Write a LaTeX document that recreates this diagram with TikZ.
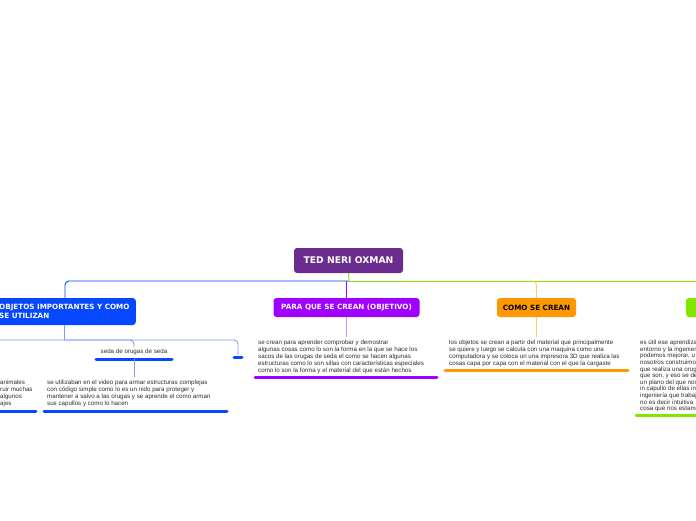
\documentclass[tikz,border=0pt]{standalone}
\usepackage{fontspec}
\setmainfont{Liberation Sans}
\newfontfamily\headfont{DejaVu Sans}

\definecolor{rootpurple}{RGB}{106,44,142}
\definecolor{topicblue}{RGB}{5,72,255}
\definecolor{lineblue}{RGB}{125,155,255}
\definecolor{topicpurple}{RGB}{160,0,255}
\definecolor{linepurple}{RGB}{215,140,255}
\definecolor{topicorange}{RGB}{255,152,0}
\definecolor{lineorange}{RGB}{255,200,120}
\definecolor{topicgreen}{RGB}{128,232,0}
\definecolor{stemgreen}{RGB}{140,205,40}
\definecolor{notegray}{RGB}{45,45,45}

\begin{document}
\begin{tikzpicture}[x=1pt, y=-1pt,
  topic/.style={rounded corners=3pt, inner sep=0pt, minimum height=19pt,
    text=white, font=\headfont\bfseries\fontsize{7.2}{8.6}\selectfont},
  note/.style={anchor=north west, inner sep=0pt, align=left, text=notegray,
    font=\fontsize{6.2}{6.9}\selectfont},
  bar/.style={line width=3pt, line cap=round},
  link/.style={line width=0.9pt, rounded corners=4pt}]
  \clip (0,0) rectangle (696,520);
  \fill[white] (0,0) rectangle (696,520);

  % Main topics
  \node[topic, fill=rootpurple, minimum width=109pt, minimum height=25pt,
    font=\headfont\bfseries\fontsize{9.2}{11}\selectfont] (root) at (348.5,260.5) {TED NERI OXMAN};
  \node[topic, fill=topicblue, minimum height=27pt, minimum width=200pt, anchor=east] (objetos) at (136,311.5) {};
  \node[topic, align=left, anchor=west] (objlabel) at (-1,311.5) {OBJETOS IMPORTANTES Y COMO\\SE UTILIZAN};
  \node[topic, fill=topicpurple, minimum width=146pt] (objetivo) at (346.5,307.5) {PARA QUE SE CREAN (OBJETIVO)};
  \node[topic, fill=topicorange, minimum width=79pt, text=black] (crean) at (536.5,307.5) {COMO SE CREAN};
  \node[topic, fill=topicgreen, minimum width=80pt] (util) at (726,307.5) {};

  % Hub lines
  \coordinate (hub) at (349,281);
  \draw[link, stemgreen] (root.south) -- (hub);
  \draw[link, topicgreen] (hub) -- (700,281);
  \draw[link, topicblue] (hub) -| (objetos.north -| 65,0);
  \draw[link, topicpurple] (hub -| objetivo.north) -- (objetivo.north);
  \draw[link, lineorange] (529,281) -| (crean.north);

  % Objetos branch
  \coordinate (objfork) at (64,340);
  \draw[link, lineblue] (objetos.south -| objfork) -- (objfork);
  \draw[link, lineblue] (-20,352) |- (objfork) -| (134,347);
  \draw[link, lineblue] (objfork) -| (238,355);
  \node[note, anchor=center] (seda) at (134,352) {seda de orugas de seda};
  \draw[bar, topicblue] (96,359) -- (172,359);
  \draw[bar, topicblue] (234,357) -- (242,357);
  \draw[link, lineblue] (134,359) -- (134,377);
  \node[note] (usotxt) at (47,380) {se utilizaban en el video para armar estructuras complejas\\
    con código simple como lo es un nido para proteger y\\
    mantener a salvo a las orugas y se aprende el como arman\\
    sus capullos y como lo hacen};
  \draw[bar, topicblue] (44,411) -- (227,411);
  \node[note] (animtxt) at (0,380) {animales\\ruir muchas\\ algunos\\ajes};
  \draw[bar, topicblue] (-5,411) -- (36,411);

  % Objetivo branch
  \draw[link, linepurple] (objetivo.south) -- (346.5,337);
  \node[note] (objtxt) at (258,340) {se crean para aprender comprobar y demostrar\\
    algunas cosas como lo son la forma en la que se hace los\\
    sacos de las orugas de seda el como se hacen algunas\\
    estructuras como lo son sillas con características especiales\\
    como lo son la forma y el material del que están hechos};
  \draw[bar, topicpurple] (255,377) -- (437,377);

  % Crean branch
  \draw[link, lineorange] (crean.south) -- (536.5,337);
  \node[note] (creantxt) at (449,340) {los objetos se crean a partir del material que principalmente\\
    se quiere y luego se calcula con una maquina como una\\
    computadora y se coloca un una impresora 3D que realiza las\\
    cosas capa por capa con el material con el que la cargaste};
  \draw[bar, topicorange] (445,370) -- (628,370);

  % Util branch
  \node[note, font=\fontsize{6.2}{6.6}\selectfont] (utiltxt) at (640,340) {es útil ese aprendiza\\entorno y la ingenier\\podemos mejorar, u\\
    nosotros construimo\\que realiza una orug\\que son, y eso se de\\un plano del que nos\\
    in capullo de ellas in\\ingeniería que trabaj\\no es decir intuitiva\\cosa que nos estamo};
  \draw[bar, topicgreen] (636,415) -- (700,415);
\end{tikzpicture}
\end{document}
